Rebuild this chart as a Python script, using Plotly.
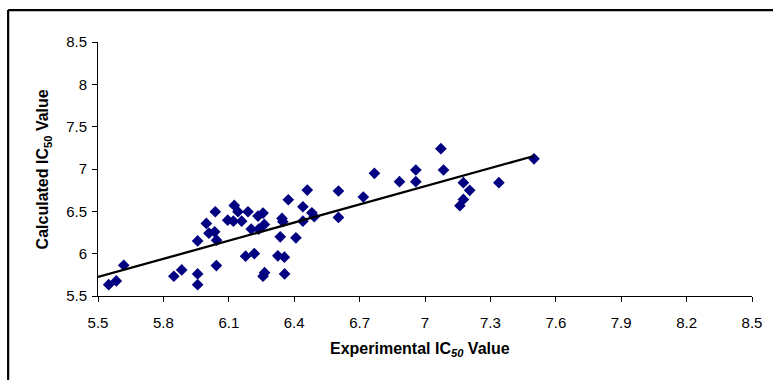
import numpy as np
import plotly.graph_objects as go

experimental = [5.549, 5.584, 5.618, 5.848, 5.884, 5.957, 5.957, 5.957, 5.997, 6.009,
                6.035, 6.038, 6.044, 6.043, 6.095, 6.121, 6.125, 6.142, 6.159, 6.177,
                6.188, 6.203, 6.217, 6.234, 6.237, 6.257, 6.263, 6.257, 6.264, 6.325,
                6.336, 6.344, 6.348, 6.355, 6.356, 6.373, 6.408, 6.440, 6.440, 6.460,
                6.481, 6.492, 6.603, 6.603, 6.717, 6.768, 6.883, 6.958, 6.958, 7.085,
                7.073, 7.160, 7.176, 7.176, 7.205, 7.339, 7.500]
calculated = [5.634, 5.678, 5.863, 5.733, 5.808, 6.150, 5.761, 5.634, 6.357, 6.242,
              6.258, 6.495, 6.159, 5.859, 6.396, 6.384, 6.570, 6.495, 6.384, 5.970,
              6.495, 6.290, 6.001, 6.444, 6.290, 6.479, 6.345, 5.733, 5.776, 5.974,
              6.199, 6.416, 6.377, 5.958, 5.761, 6.637, 6.187, 6.384, 6.554, 6.751,
              6.483, 6.436, 6.740, 6.428, 6.669, 6.949, 6.850, 6.988, 6.850, 6.988,
              7.240, 6.566, 6.641, 6.838, 6.748, 6.838, 7.120]

x_ticks = [5.5, 5.8, 6.1, 6.4, 6.7, 7.0, 7.3, 7.6, 7.9, 8.2, 8.5]
x_tick_labels = ["5.5", "5.8", "6.1", "6.4", "6.7", "7", "7.3", "7.6", "7.9", "8.2", "8.5"]
y_ticks = [5.5, 6.0, 6.5, 7.0, 7.5, 8.0, 8.5]
y_tick_labels = ["5.5", "6", "6.5", "7", "7.5", "8", "8.5"]

slope, intercept = np.polyfit(experimental, calculated, 1)
trend_x = [5.5, max(experimental)]
trend_y = [slope * v + intercept for v in trend_x]

font_family = "Liberation Sans, Arial, sans-serif"

fig = go.Figure()
fig.add_trace(go.Scatter(x=experimental, y=calculated, mode="markers",
                         marker=dict(symbol="diamond", size=9, color="#000080",
                                     line=dict(width=0)),
                         showlegend=False, hoverinfo="skip"))
fig.add_trace(go.Scatter(x=trend_x, y=trend_y, mode="lines",
                         line=dict(color="black", width=2.3),
                         showlegend=False, hoverinfo="skip"))

L, R, T, B = 97.7, 752.0, 42.2, 295.7
W, H = 773, 380
pw, ph = R - L, B - T

fig.update_layout(
    width=W, height=H,
    margin=dict(l=L, r=W - R, t=T, b=H - B, pad=0),
    paper_bgcolor="white", plot_bgcolor="white",
    font=dict(family=font_family, size=15, color="black"),
    xaxis=dict(range=[5.5, 8.5], tickvals=x_ticks, ticktext=x_tick_labels,
               tickfont=dict(size=15, family=font_family),
               showline=True, linecolor="black", linewidth=1,
               ticks="outside", ticklen=5, tickcolor="black", tickwidth=1,
               ticklabelstandoff=8,
               showgrid=False, zeroline=False, fixedrange=True),
    yaxis=dict(range=[5.5, 8.5], tickvals=y_ticks, ticktext=y_tick_labels,
               tickfont=dict(size=15, family=font_family),
               showline=True, linecolor="black", linewidth=1,
               ticks="outside", ticklen=5, tickcolor="black", tickwidth=1,
               ticklabelstandoff=2,
               showgrid=False, zeroline=False, fixedrange=True),
    shapes=[
        dict(type="line", xref="paper", yref="paper",
             x0=(7.8 - L) / pw, x1=(W + 10 - L) / pw,
             y0=(B - 10.3) / ph, y1=(B - 10.3) / ph,
             line=dict(color="black", width=2.2)),
        dict(type="line", xref="paper", yref="paper",
             x0=(7.8 - L) / pw, x1=(7.8 - L) / pw,
             y0=(B - 10.3) / ph, y1=(B - H - 10) / ph,
             line=dict(color="black", width=2.2)),
    ],
    annotations=[
        dict(text="<b>Experimental IC<i><sub>50</sub></i> Value</b>",
             xref="paper", yref="paper", x=(420 - L) / pw, y=(B - 349) / ph,
             xanchor="center", yanchor="middle", showarrow=False,
             font=dict(size=16, family=font_family)),
        dict(text="<b>Calculated IC<sub>50</sub> Value</b>",
             xref="paper", yref="paper", x=(43 - L) / pw, y=(B - 169) / ph,
             xanchor="center", yanchor="middle", textangle=-90, showarrow=False,
             font=dict(size=16, family=font_family)),
    ],
)

fig.write_html("out.html", config={"displayModeBar": False, "staticPlot": True},
               post_script="document.body.style.margin='0';document.body.style.overflow='hidden';")
